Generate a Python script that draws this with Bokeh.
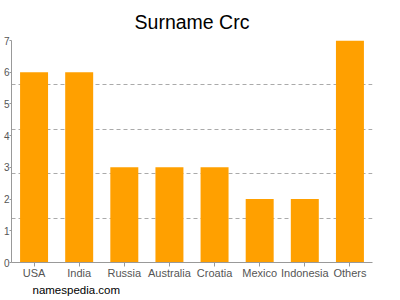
from bokeh.plotting import figure
from bokeh.models import FixedTicker, Title, Range1d, FactorRange
from bokeh.embed import file_html
from bokeh.resources import INLINE

countries = ["USA", "India", "Russia", "Australia", "Croatia", "Mexico", "Indonesia", "Others"]
counts = [6, 6, 3, 3, 3, 2, 2, 7]
y_ticks = [0, 1, 2, 3, 4, 5, 6, 7]
grid_ticks = [1.4, 2.8, 4.2, 5.6, 7]

FONT = "Liberation Sans"

p = figure(width=400, height=300, x_range=FactorRange(*countries, range_padding=0),
           y_range=Range1d(0, 7), output_backend="svg", toolbar_location=None,
           min_border_left=11, min_border_right=28, min_border_top=40, min_border_bottom=38)
p.outline_line_color = None
p.background_fill_color = "white"
p.border_fill_color = "white"

p.vbar(x=countries, top=counts, width=0.62, color="#ffa000", line_color=None)

p.title.text = "Surname Crc"
p.title.align = "center"
p.title.text_font = FONT
p.title.text_font_size = "19.5px"
p.title.text_font_style = "normal"
p.title.text_color = "#000000"
p.title.standoff = 16

p.xgrid.grid_line_color = None
p.ygrid.ticker = FixedTicker(ticks=grid_ticks)
p.ygrid.grid_line_color = "#aaaaaa"
p.ygrid.grid_line_dash = "4 3"
p.ygrid.grid_line_width = 1

p.yaxis.ticker = FixedTicker(ticks=y_ticks)
p.yaxis.axis_line_color = "#999999"
p.yaxis.major_tick_line_color = "#999999"
p.yaxis.major_tick_out = 2
p.yaxis.major_tick_in = 0
p.yaxis.minor_tick_line_color = None
p.yaxis.major_label_standoff = 0
p.yaxis.major_label_text_font = FONT
p.yaxis.major_label_text_font_size = "10px"
p.yaxis.major_label_text_color = "#555555"

p.xaxis.axis_line_color = "#999999"
p.xaxis.major_tick_line_color = "#999999"
p.xaxis.major_tick_out = 4
p.xaxis.major_tick_in = 0
p.xaxis.major_label_standoff = 0
p.xaxis.major_label_text_font = FONT
p.xaxis.major_label_text_font_size = "11px"
p.xaxis.major_label_text_color = "#555555"

p.add_layout(Title(text="namespedia.com", align="left", offset=21, text_font=FONT,
                   text_font_size="11.5px", text_font_style="normal", text_color="#000000",
                   standoff=0), "below")

open("out.html", "w").write(file_html(p, INLINE))
